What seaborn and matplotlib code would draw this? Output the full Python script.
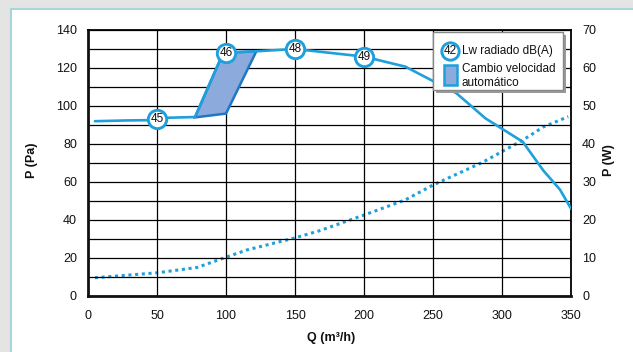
import matplotlib
matplotlib.use("Agg")
import matplotlib.pyplot as plt
import matplotlib.transforms as mtransforms
from matplotlib.patches import Rectangle
from matplotlib.lines import Line2D
import seaborn as sns
import pandas as pd

# ---- data ----
q_pa = [5, 28, 50, 57, 77.5, 98, 122, 150, 200, 230, 267, 288, 315, 330, 342, 350]
p_pa = [92, 92.4, 92.6, 93.8, 94.2, 128, 128.8, 130, 126, 120.7, 106.7, 93.5, 81.2, 66, 56, 46]

q_w = [5, 50, 79, 100, 115, 150, 168, 200, 230, 250, 274, 286, 315, 330, 348]
p_w = [4.8, 6.1, 7.5, 10.2, 12.1, 15.3, 17.2, 21.3, 25.3, 29.2, 33.2, 35.2, 41, 44.5, 47.2]

para_q = [77.5, 98, 122, 100]
para_p = [94, 128, 128.8, 96]

mark_q = [50, 100, 150, 200]
mark_p = [93, 128, 130, 126]
mark_lbl = ["45", "46", "48", "49"]

x_ticks = [0, 50, 100, 150, 200, 250, 300, 350]
y_ticks = [0, 20, 40, 60, 80, 100, 120, 140]
y2_ticks = [0, 10, 20, 30, 40, 50, 60, 70]

legend_marker = "42"
legend_lw = "Lw radiado dB(A)"
legend_patch = "Cambio velocidad\nautomático"

# ---- style ----
sns.set_style("white")
plt.rcParams["font.family"] = ["Liberation Sans", "DejaVu Sans"]

BLUE = "#1ea0dc"
DARK = "#1f78c4"
FILL = "#8caadc"
TXT = "#111111"

W, H = 633, 352
fig = plt.figure(figsize=(W / 100, H / 100), dpi=100, facecolor="#e4e4e4")
px = mtransforms.Affine2D().scale(1 / W, -1 / H).translate(0, 1) + fig.transFigure

# white panel with teal border
fig.add_artist(Rectangle((11, 9), 640, 360, transform=px, facecolor="white",
                         edgecolor="#a9d6da", linewidth=1.5, zorder=0))

ax = fig.add_axes([88 / W, (H - 296) / H, (571 - 88) / W, (296 - 30) / H])
ax.set_facecolor("white")
ax.set_xlim(0, 350)
ax.set_ylim(0, 140)
ax.set_xticks(x_ticks)
ax.set_yticks(y_ticks)
ax.set_yticks(range(0, 141, 10), minor=True)
ax.grid(True, which="both", axis="y", color="black", linewidth=0.9)
for xv in x_ticks[1:-1]:
    ax.axvline(xv, color="black", linewidth=0.9, zorder=1)
ax.set_axisbelow(True)
ax.tick_params(axis="both", which="both", length=0, labelsize=9, colors=TXT)
ax.tick_params(axis="y", pad=8)
ax.tick_params(axis="x", pad=10)
for s in ["top", "right"]:
    ax.spines[s].set_linewidth(1.3)
    ax.spines[s].set_color("black")
for s in ["left", "bottom"]:
    ax.spines[s].set_linewidth(2.0)
    ax.spines[s].set_color("#111111")

ax2 = ax.twinx()
ax2.set_ylim(0, 70)
ax2.set_yticks(y2_ticks)
ax2.tick_params(axis="y", length=0, labelsize=9, colors=TXT, pad=8)
for s in ax2.spines.values():
    s.set_visible(False)

# power (dotted)
df_w = pd.DataFrame({"Q": q_w, "W": p_w})
sns.lineplot(data=df_w, x="Q", y="W", ax=ax2, sort=False, color=BLUE,
             linewidth=2.2, linestyle=(0, (1.0, 1.2)), zorder=3)
ax2.set_xlabel("")
ax2.set_ylabel("")

# parallelogram
ax.fill(para_q, para_p, facecolor=FILL, edgecolor=DARK, linewidth=1.8, zorder=3)

# pressure line
df_p = pd.DataFrame({"Q": q_pa, "P": p_pa})
sns.lineplot(data=df_p, x="Q", y="P", ax=ax, sort=False, color=BLUE,
             linewidth=1.9, zorder=4)

# circled markers
sns.scatterplot(x=mark_q, y=mark_p, ax=ax, s=175, color="white", edgecolor=BLUE,
                linewidth=2.1, zorder=6)
for qv, pv, lbl in zip(mark_q, mark_p, mark_lbl):
    ax.text(qv, pv, lbl, ha="center", va="center", fontsize=8.5, color=TXT, zorder=7)

ax.set_xlabel("")
ax.set_ylabel("")
ax.set_zorder(ax2.get_zorder() + 1)
ax.patch.set_visible(False)
ax2.patch.set_visible(True)
ax2.patch.set_facecolor("white")

# axis labels
fig.text(32 / W, 1 - 160 / H, "P (Pa)", rotation=90, ha="center", va="center",
         fontsize=9, fontweight="bold", color=TXT)
fig.text(609 / W, 1 - 160 / H, "P (W)", rotation=90, ha="center", va="center",
         fontsize=9, fontweight="bold", color=TXT)
fig.text(331 / W, 1 - 338 / H, "Q (m³/h)", ha="center", va="center",
         fontsize=9, fontweight="bold", color=TXT)

# legend box
fig.add_artist(Rectangle((436, 35), 130, 58, transform=px, facecolor="#9a9a9a",
                         edgecolor="none", zorder=20))
fig.add_artist(Rectangle((433, 32), 130, 58, transform=px, facecolor="white",
                         edgecolor="#888888", linewidth=1.0, zorder=21))
fig.add_artist(Line2D([450], [51], transform=px, marker="o", markersize=12.5,
                      markerfacecolor="white", markeredgecolor=BLUE,
                      markeredgewidth=2.1, zorder=22))
fig.text(450 / W, 1 - 51 / H, legend_marker, ha="center", va="center",
         fontsize=8.5, color=TXT, zorder=23)
fig.text(462 / W, 1 - 51 / H, legend_lw, ha="left", va="center",
         fontsize=8.5, color=TXT, zorder=23)
fig.add_artist(Rectangle((444, 65), 12.5, 20, transform=px, facecolor=FILL,
                         edgecolor=BLUE, linewidth=1.8, zorder=22))
fig.text(462 / W, 1 - 76 / H, legend_patch, ha="left", va="center",
         fontsize=8.5, color=TXT, zorder=23, linespacing=1.15)

fig.savefig("out.png", dpi=100, facecolor=fig.get_facecolor())
